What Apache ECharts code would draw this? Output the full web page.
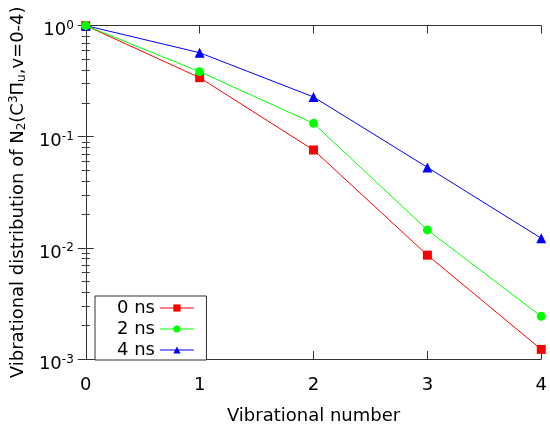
<!DOCTYPE html>
<html><head><meta charset="utf-8">
<script src="https://cdn.jsdelivr.net/npm/echarts@6/dist/echarts.min.js"></script>
<style>html,body{margin:0;padding:0;background:#fff}#c{width:550px;height:430px}</style>
</head><body><div id="c"></div>
<script>
const vibNumbers = [0, 1, 2, 3, 4];
const seriesNames = ['0 ns', '2 ns', '4 ns'];
const dist0ns = [1.0, 0.34, 0.076, 0.0086, 0.00122];
const dist2ns = [1.0, 0.385, 0.132, 0.0145, 0.00242];
const dist4ns = [1.0, 0.57, 0.228, 0.053, 0.0122];
const xTickLabels = ['0', '1', '2', '3', '4'];
const yTickExponents = [0, -1, -2, -3];

const FONT = 'DejaVu Sans';
const AX = '#333';
const FS = 18;
const supRich = {
  sup: { fontSize: 12, fontFamily: FONT, color: '#000', verticalAlign: 'top', padding: [0, 0, 9, 0] },
  b: { fontSize: FS, fontFamily: FONT, color: '#000' }
};
function pairs(arr) { return vibNumbers.map((x, i) => [x, arr[i]]); }
function yFmt(v) {
  const e = Math.round(Math.log10(v));
  if (!yTickExponents.includes(e)) return '';
  return '{b|10}{sup|' + e + '}';
}

const chart = echarts.init(document.getElementById('c'), null, { renderer: 'canvas' });
const baseX = {
  type: 'value', min: 0, max: 4, interval: 1,
  axisLine: { show: true, lineStyle: { color: AX, width: 1 } },
  axisTick: { show: true, inside: true, length: 8, lineStyle: { color: AX } },
  splitLine: { show: false }
};
const baseY = {
  type: 'log', logBase: 10, min: 0.001, max: 1,
  axisLine: { show: true, lineStyle: { color: AX, width: 1 } },
  axisTick: { show: true, inside: true, length: 8, lineStyle: { color: AX } },
  minorTick: { show: true, splitNumber: 9, length: 4, lineStyle: { color: AX } },
  splitLine: { show: false }
};
chart.setOption({
  animation: false,
  backgroundColor: '#fff',
  grid: { left: 83.5, right: 5.5, top: 25.6, bottom: 62 },
  xAxis: [
    Object.assign({}, baseX, {
      position: 'bottom',
      axisLabel: { show: true, fontSize: FS, fontFamily: FONT, color: '#000', margin: 17,
        formatter: v => xTickLabels[vibNumbers.indexOf(v)] },
      name: 'Vibrational number', nameLocation: 'middle', nameGap: 48,
      nameTextStyle: { fontSize: FS, fontFamily: FONT, color: '#000' }
    }),
    Object.assign({}, baseX, { position: 'top', axisLabel: { show: false } })
  ],
  yAxis: [
    Object.assign({}, baseY, {
      position: 'left',
      axisLabel: { show: true, margin: 12, formatter: yFmt, rich: supRich, padding: [10, 0, 0, 0] },
      name: '{b|Vibrational distribution of N}{sub|2}{b|(C}{sup|3}{b|Π}{sub|u}{b|,v=0-4)}',
      nameLocation: 'middle', nameGap: 47, nameRotate: 90,
      nameTextStyle: {
        rich: {
          b: { fontSize: FS, fontFamily: FONT, color: '#000' },
          sub: { fontSize: 12, fontFamily: FONT, color: '#000', verticalAlign: 'bottom', padding: [6, 0, 0, 0] },
          sup: { fontSize: 12, fontFamily: FONT, color: '#000', verticalAlign: 'top', padding: [0, 0, 8, 0] }
        }
      }
    }),
    Object.assign({}, baseY, { position: 'right', axisLabel: { show: false } })
  ],
  legend: {
    orient: 'vertical', left: 95, top: 296, align: 'right',
    data: seriesNames,
    backgroundColor: '#fff', borderColor: AX, borderWidth: 1,
    padding: [3, 12, 1, 22], itemGap: 3, itemWidth: 34, itemHeight: 9,
    lineStyle: { width: 1 },
    textStyle: { fontSize: FS, fontFamily: FONT, color: '#000' }
  },
  series: [
    { name: seriesNames[0], type: 'line', data: pairs(dist0ns), symbol: 'rect', symbolSize: 9,
      itemStyle: { color: '#ff0000' }, lineStyle: { color: '#ff0000', width: 1 }, z: 2 },
    { name: seriesNames[2], type: 'line', data: pairs(dist4ns), symbol: 'triangle', symbolSize: 10,
      itemStyle: { color: '#0000ff' }, lineStyle: { color: '#0000ff', width: 1 }, z: 3 },
    { name: seriesNames[1], type: 'line', data: pairs(dist2ns), symbol: 'circle', symbolSize: 9,
      itemStyle: { color: '#00ff00' }, lineStyle: { color: '#00ff00', width: 1 }, z: 4 }
  ]
});
</script></body></html>
